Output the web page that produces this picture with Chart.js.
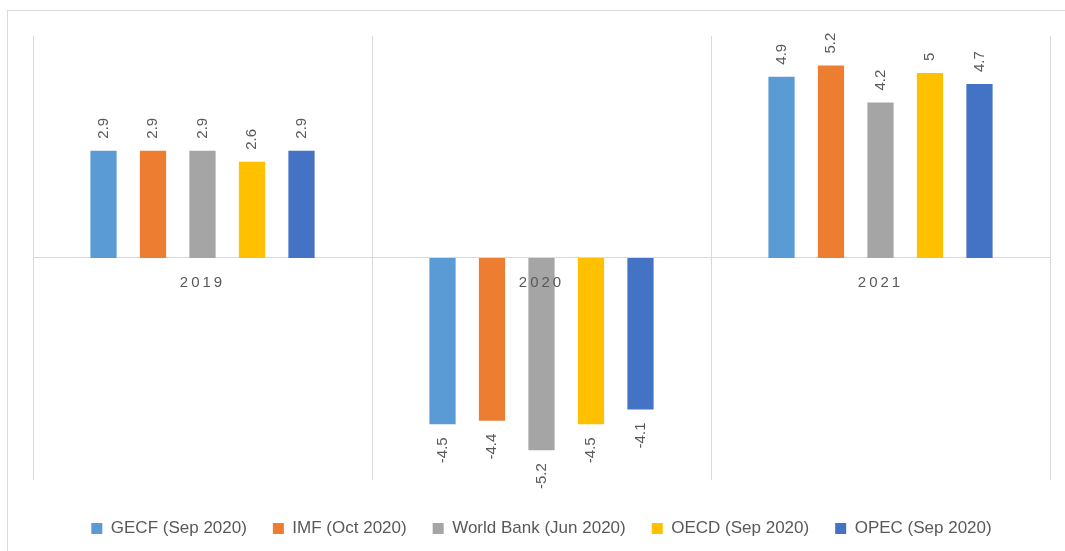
<!DOCTYPE html>
<html>
<head>
<meta charset="utf-8">
<script src="https://cdn.jsdelivr.net/npm/chart.js@4.4.1/dist/chart.umd.min.js"></script>
<style>
    html, body { margin: 0; padding: 0; background: #ffffff; overflow: hidden; }
    #frame {
        position: absolute; left: 7px; top: 10px; width: 1200px; height: 700px;
        border-left: 1px solid #d9d9d9; border-top: 1px solid #d9d9d9;
    }
    #wrap { position: absolute; left: 0; top: 0; width: 1065px; height: 551px; }
</style>
</head>
<body>
<div id="frame"></div>
<div id="wrap"><canvas id="growthChart" width="1065" height="551"></canvas></div>
<script>
const years = ["2019", "2020", "2021"];

const gecf = [2.9, -4.5, 4.9];
const imf = [2.9, -4.4, 5.2];
const worldBank = [2.9, -5.2, 4.2];
const oecd = [2.6, -4.5, 5];
const opec = [2.9, -4.1, 4.7];

const seriesNames = ["GECF (Sep 2020)", "IMF (Oct 2020)", "World Bank (Jun 2020)", "OECD (Sep 2020)", "OPEC (Sep 2020)"];
const seriesColors = ["#5b9bd5", "#ed7d31", "#a5a5a5", "#ffc000", "#4472c4"];

const textGrey = "#595959";
const fontName = "'Liberation Sans', Arial, sans-serif";

// value labels, rotated like the original
const barLabels = {
    id: "barLabels",
    afterDatasetsDraw(chart) {
        const ctx = chart.ctx;
        chart.data.datasets.forEach((ds, i) => {
            const meta = chart.getDatasetMeta(i);
            meta.data.forEach((bar, j) => {
                const v = ds.data[j];
                ctx.save();
                ctx.font = "15px " + fontName;
                ctx.fillStyle = textGrey;
                ctx.textBaseline = "middle";
                if (v >= 0) {
                    ctx.translate(bar.x, bar.y - 12);
                    ctx.textAlign = "left";
                } else {
                    ctx.translate(bar.x, bar.y + 13);
                    ctx.textAlign = "right";
                }
                ctx.rotate(-Math.PI / 2);
                ctx.fillText(String(v), 0, 0);
                ctx.restore();
            });
        });
        // year labels are drawn after the bars, spaced out
        ctx.letterSpacing = "3px";
    },
    afterDraw(chart) {
        chart.ctx.letterSpacing = "0px";
    }
};

document.addEventListener("DOMContentLoaded", function () {
    const ctx = document.getElementById("growthChart").getContext("2d");
    const values = [gecf, imf, worldBank, oecd, opec];

    new Chart(ctx, {
        type: "bar",
        data: {
            labels: years,
            datasets: values.map((d, i) => ({
                label: seriesNames[i],
                data: d,
                backgroundColor: seriesColors[i],
                borderWidth: 0,
                categoryPercentage: 0.73,
                barPercentage: 0.53
            }))
        },
        options: {
            responsive: false,
            animation: false,
            layout: { padding: { left: 33, right: 15, top: 36, bottom: 4 } },
            scales: {
                x: {
                    position: { y: 0 },
                    grid: { color: "#d9d9d9", lineWidth: 1, drawTicks: false, offset: true },
                    border: { color: "#d9d9d9", width: 1 },
                    ticks: {
                        z: 1,
                        padding: 16,
                        color: textGrey,
                        font: { family: fontName, size: 15 }
                    }
                },
                y: {
                    display: false,
                    min: -6,
                    max: 6
                }
            },
            plugins: {
                tooltip: { enabled: false },
                legend: {
                    position: "bottom",
                    title: { display: true, text: "", font: { size: 1 }, padding: { top: 9, bottom: 4 } },
                    labels: {
                        boxWidth: 11,
                        boxHeight: 11,
                        padding: 26,
                        color: textGrey,
                        font: { family: fontName, size: 17 }
                    }
                }
            }
        },
        plugins: [barLabels]
    });
});
</script>
</body>
</html>
